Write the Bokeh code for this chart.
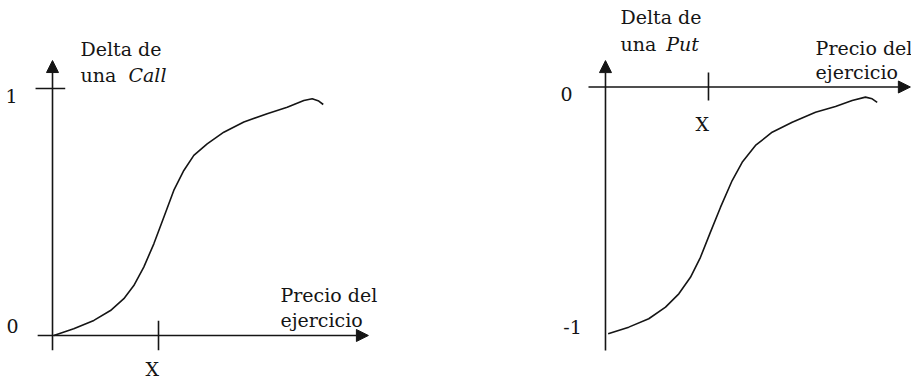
from bokeh.plotting import figure
from bokeh.layouts import row
from bokeh.models import Arrow, NormalHead
from bokeh.core.properties import value
from bokeh.embed import file_html
from bokeh.resources import INLINE

# ---- data (price relative to strike X = 1) ----
call_price = [0.012, 0.20, 0.39, 0.547, 0.673, 0.767, 0.861, 0.956, 1.050, 1.144, 1.239, 1.333,
              1.459, 1.616, 1.805, 2.025, 2.214, 2.371, 2.450, 2.512, 2.554]
call_delta = [0.0, 0.027, 0.061, 0.101, 0.149, 0.202, 0.277, 0.371, 0.479, 0.587, 0.668, 0.729,
              0.776, 0.823, 0.864, 0.898, 0.924, 0.951, 0.958, 0.949, 0.935]
put_price = [0.026, 0.226, 0.420, 0.583, 0.712, 0.825, 0.922, 1.019, 1.117, 1.230, 1.327, 1.456,
             1.618, 1.813, 2.039, 2.233, 2.395, 2.524, 2.589, 2.638]
put_delta = [-1.0, -0.973, -0.939, -0.892, -0.838, -0.771, -0.690, -0.588, -0.487, -0.379, -0.305, -0.237,
             -0.183, -0.143, -0.102, -0.079, -0.055, -0.041, -0.048, -0.062]
strike = 1.0
call_ticks = [0, 1]
call_tick_labels = ["0", "1"]
put_ticks = [0, -1]
put_tick_labels = ["0", "-1"]
strike_label = "X"
xlabel = ["Precio del", "ejercicio"]
call_title = ["Delta de", "una", "Call"]
put_title = ["Delta de", "una", "Put"]

INK = "#151515"
FONT = value("DejaVu Serif")
FS = "19px"
LW = 1.6
H = 382


def base(w, h, xr, yr):
    p = figure(width=w, height=h, x_range=xr, y_range=yr, output_backend="svg",
               toolbar_location=None, x_axis_location=None, y_axis_location=None,
               min_border=0, tools="")
    p.outline_line_color = None
    p.grid.visible = False
    return p


def txt(p, x, y, t, align="left", style="normal"):
    p.text(x=[x], y=[y], text=[t], text_font=FONT, text_font_size=FS,
           text_align=align, text_baseline="middle", text_color=INK,
           text_font_style=style)


def head():
    return NormalHead(size=12, fill_color=INK, line_color=INK, line_width=1)


# ---- Call panel ----  (y range maps pixel rows 0..382)
p1 = base(451, H, (-0.4906, 3.764), ((335 - H) / 247, 1.356))
p1.line(call_price, call_delta, line_color=INK, line_width=LW)
p1.add_layout(Arrow(end=head(), x_start=0, y_start=-0.06, x_end=0, y_end=1.113,
                    line_color=INK, line_width=LW))
p1.add_layout(Arrow(end=head(), x_start=-0.14, y_start=call_ticks[0], x_end=2.98, y_end=call_ticks[0],
                    line_color=INK, line_width=LW))
p1.segment(x0=[-0.16], y0=[call_ticks[1]], x1=[0.12], y1=[call_ticks[1]], line_color=INK, line_width=LW)
p1.segment(x0=[strike], y0=[0.06], x1=[strike], y1=[-0.06], line_color=INK, line_width=LW)
txt(p1, -0.387, call_ticks[1] - 0.03, call_tick_labels[1], "center")
txt(p1, -0.377, call_ticks[0] + 0.04, call_tick_labels[0], "center")
txt(p1, strike - 0.06, -0.134, strike_label, "center")
txt(p1, 0.264, 1.158, call_title[0])
txt(p1, 0.264, 1.053, call_title[1])
txt(p1, 0.717, 1.053, call_title[2], style="italic")
txt(p1, 2.15, 0.162, xlabel[0])
txt(p1, 2.15, 0.061, xlabel[1])

# ---- Put panel ----
p2 = base(460, H, (-1.495, 2.971), ((86.5 - H) / 246.8, 0.3505))
p2.line(put_price, put_delta, line_color=INK, line_width=LW)
p2.add_layout(Arrow(end=head(), x_start=0, y_start=-1.068, x_end=0, y_end=0.107,
                    line_color=INK, line_width=LW))
p2.add_layout(Arrow(end=head(), x_start=-0.165, y_start=put_ticks[0], x_end=2.96, y_end=put_ticks[0],
                    line_color=INK, line_width=LW))
p2.segment(x0=[strike], y0=[0.059], x1=[strike], y1=[-0.055], line_color=INK, line_width=LW)
txt(p2, -0.379, put_ticks[0] - 0.03, put_tick_labels[0], "center")
txt(p2, -0.32, put_ticks[1] + 0.026, put_tick_labels[1], "center")
txt(p2, strike - 0.06, -0.148, strike_label, "center")
txt(p2, 0.146, 0.282, put_title[0])
txt(p2, 0.146, 0.176, put_title[1])
txt(p2, 0.59, 0.176, put_title[2], style="italic")
txt(p2, 2.04, 0.160, xlabel[0])
txt(p2, 2.04, 0.059, xlabel[1])

layout = row(p1, p2, spacing=0)
open("out.html", "w").write(file_html(layout, INLINE))
